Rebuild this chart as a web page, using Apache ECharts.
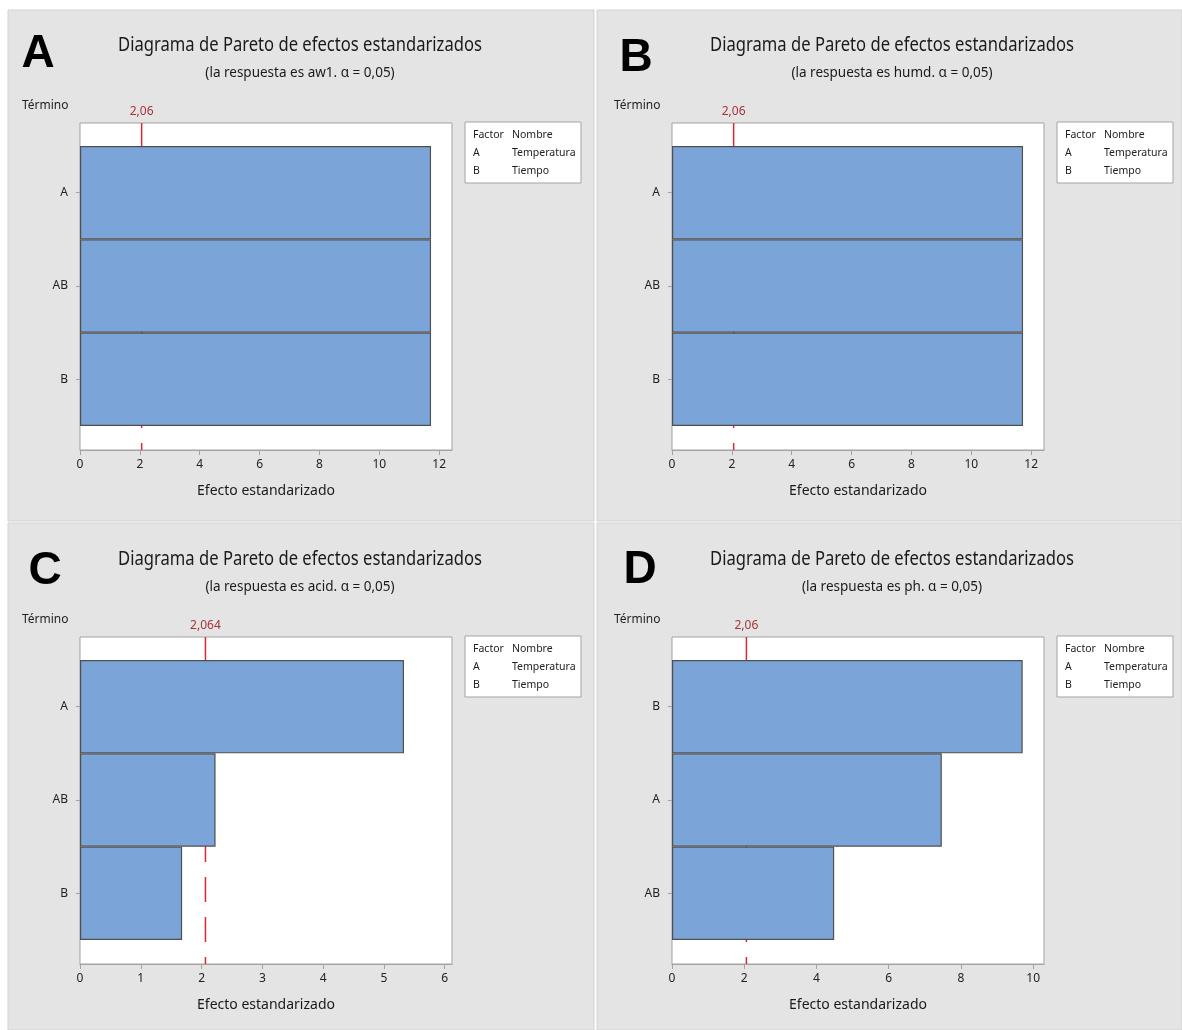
<!DOCTYPE html>
<html>
<head>
<meta charset="utf-8">
<title>Diagrama de Pareto de efectos estandarizados</title>
<script src="https://cdn.jsdelivr.net/npm/echarts@6/dist/echarts.min.js"></script>
<style>
  html, body { margin: 0; padding: 0; background: #fff; }
  #main { width: 1182px; height: 1030px; }
</style>
</head>
<body>
<div id="main"></div>
<script>
// terms are listed top to bottom, as drawn
const termsA = ['A', 'AB', 'B']
const effectsA = [11.73, 11.73, 11.73]
const termsB = ['A', 'AB', 'B']
const effectsB = [11.73, 11.73, 11.73]
const termsC = ['A', 'AB', 'B']
const effectsC = [5.33, 2.23, 1.68]
const termsD = ['B', 'A', 'AB']
const effectsD = [9.71, 7.47, 4.49]

const panelLetters = ['A', 'B', 'C', 'D']
const responses = ['aw1', 'humd', 'acid', 'ph']
const refValues = [2.06, 2.06, 2.064, 2.06]
const refLabels = ['2,06', '2,06', '2,064', '2,06']

const ticksA = [0, 2, 4, 6, 8, 10, 12]
const ticksB = [0, 2, 4, 6, 8, 10, 12]
const ticksC = [0, 1, 2, 3, 4, 5, 6]
const ticksD = [0, 2, 4, 6, 8, 10]
const axisMax = [12.43, 12.43, 6.12, 10.3]

const factorRows = [['Factor', 'Nombre'], ['A', 'Temperatura'], ['B', 'Tiempo']]

const FONT = '"Noto Sans", "DejaVu Sans", sans-serif'
const BAR = '#7ba5d8'
const FRAME = '#a3a3a3'

const panels = [
  { terms: termsA, effects: effectsA, ticks: ticksA, ox: 0, oy: 0, letter: [38, 54] },
  { terms: termsB, effects: effectsB, ticks: ticksB, ox: 592, oy: 0, letter: [636, 58] },
  { terms: termsC, effects: effectsC, ticks: ticksC, ox: 0, oy: 514, letter: [45, 571] },
  { terms: termsD, effects: effectsD, ticks: ticksD, ox: 592, oy: 514, letter: [640, 570] }
]

const grid = [], xAxis = [], yAxis = [], series = [], graphic = []

// panel backgrounds
const bgRects = [[8, 10, 586, 511], [597, 10, 585, 511], [8, 523, 586, 507], [597, 523, 585, 507]]
bgRects.forEach(r => {
  graphic.push({
    type: 'rect', z: -10,
    shape: { x: r[0], y: r[1], width: r[2], height: r[3] },
    style: { fill: '#e4e4e4', stroke: '#d2d2d2', lineWidth: 1 }
  })
})

panels.forEach((p, i) => {
  const ox = p.ox, oy = p.oy
  const fi = 2 * i, bi = 2 * i + 1

  // outer frame (plot area with the x axis)
  grid.push({ left: 80 + ox, top: 123 + oy, width: 372, height: 327,
    show: true, backgroundColor: '#fff', borderColor: FRAME, borderWidth: 1 })
  // inner area where the bars sit
  grid.push({ left: 80 + ox, top: 146 + oy, width: 372, height: 280 })

  xAxis.push({
    type: 'value', gridIndex: fi, min: 0, max: axisMax[i],
    splitLine: { show: false },
    axisLine: { show: true, lineStyle: { color: FRAME } },
    axisTick: { show: true, length: 5, lineStyle: { color: FRAME }, customValues: p.ticks },
    axisLabel: { fontFamily: FONT, fontSize: 12, color: '#222', margin: 9, customValues: p.ticks },
    name: 'Efecto estandarizado', nameLocation: 'middle', nameGap: 34,
    nameTextStyle: { fontFamily: FONT, fontSize: 14, color: '#1a1a1a' }
  })
  yAxis.push({ type: 'value', gridIndex: fi, min: 0, max: 1, show: false })

  xAxis.push({ type: 'value', gridIndex: bi, min: 0, max: axisMax[i], show: false })
  yAxis.push({
    type: 'category', gridIndex: bi, data: p.terms, inverse: true,
    axisLine: { show: false },
    axisTick: { show: true, alignWithLabel: true, length: 4, lineStyle: { color: FRAME } },
    axisLabel: { fontFamily: FONT, fontSize: 12, color: '#222', margin: 12 }
  })

  // critical value line, behind the bars
  series.push({
    type: 'line', xAxisIndex: fi, yAxisIndex: fi, z: 1,
    showSymbol: true, symbol: 'circle', symbolSize: 0, silent: true,
    lineStyle: { color: '#e2242c', width: 1.5, type: [25, 15] },
    data: [
      { value: [refValues[i], 1],
        label: { show: true, position: 'top', distance: 5, formatter: refLabels[i],
          fontFamily: FONT, fontSize: 12, color: '#a6343a' } },
      { value: [refValues[i], 0] }
    ]
  })

  series.push({
    type: 'bar', xAxisIndex: bi, yAxisIndex: bi, z: 3,
    barCategoryGap: 0,
    itemStyle: { color: BAR, borderColor: '#4f4f4f', borderWidth: 1.2 },
    data: p.effects
  })

  // letter, titles, "Término"
  graphic.push({
    type: 'text', x: p.letter[0], y: p.letter[1],
    style: { text: panelLetters[i], font: 'bold 46px "Liberation Sans", Arial, sans-serif',
      fill: '#000', align: 'center', verticalAlign: 'middle' }
  })
  graphic.push({
    type: 'text', x: 300 + ox, y: 45 + oy, scaleX: 0.83,
    style: { text: 'Diagrama de Pareto de efectos estandarizados', font: '20px ' + FONT,
      fill: '#1a1a1a', align: 'center', verticalAlign: 'middle' }
  })
  graphic.push({
    type: 'text', x: 300 + ox, y: 73 + oy, scaleX: 0.9,
    style: { text: '(la respuesta es ' + responses[i] + '. \u03b1 = 0,05)', font: '15px ' + FONT,
      fill: '#1a1a1a', align: 'center', verticalAlign: 'middle' }
  })
  graphic.push({
    type: 'text', x: 22 + ox, y: 106 + oy,
    style: { text: 'Término', font: '12px ' + FONT, fill: '#222', align: 'left', verticalAlign: 'middle' }
  })

  // factor table
  graphic.push({
    type: 'rect', shape: { x: 465 + ox, y: 122 + oy, width: 116, height: 61 },
    style: { fill: '#fff', stroke: FRAME, lineWidth: 1 }
  })
  factorRows.forEach((row, r) => {
    graphic.push({
      type: 'text', x: 473 + ox, y: 135 + oy + r * 18,
      style: { text: row[0], font: '10.5px ' + FONT, fill: '#222', verticalAlign: 'middle' }
    })
    graphic.push({
      type: 'text', x: 512 + ox, y: 135 + oy + r * 18,
      style: { text: row[1], font: '10.5px ' + FONT, fill: '#222', verticalAlign: 'middle' }
    })
  })
})

const chart = echarts.init(document.getElementById('main'))
chart.setOption({
  animation: false,
  backgroundColor: '#fff',
  grid: grid,
  xAxis: xAxis,
  yAxis: yAxis,
  series: series,
  graphic: graphic
})
</script>
</body>
</html>
